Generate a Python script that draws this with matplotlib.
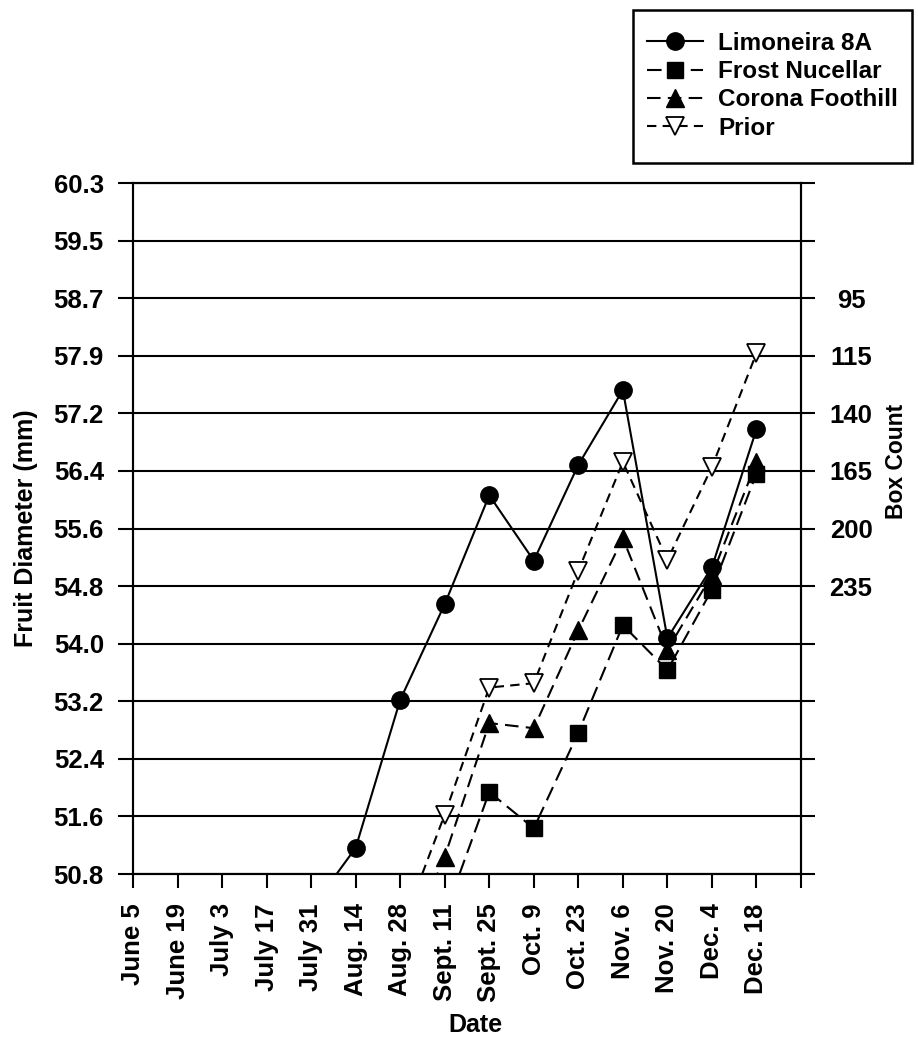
import numpy as np
import matplotlib.pyplot as plt
import matplotlib.patches as patches

plt.rcParams['font.family'] = ['Liberation Sans', 'DejaVu Sans']
plt.rcParams['font.weight'] = 'bold'

dates = ["June 5", "June 19", "July 3", "July 17", "July 31", "Aug. 14", "Aug. 28",
         "Sept. 11", "Sept. 25", "Oct. 9", "Oct. 23", "Nov. 6", "Nov. 20", "Dec. 4",
         "Dec. 18", ""]

# fruit diameter (mm); first values of each series fall below the axis
limoneira_x = [4, 5, 6, 7, 8, 9, 10, 11, 12, 13, 14]
limoneira = [50.32, 51.16, 53.20, 54.52, 56.02, 55.12, 56.44, 57.47, 54.05, 55.03, 56.93]
frost_x = [7, 8, 9, 10, 11, 12, 13, 14]
frost = [50.24, 51.93, 51.43, 52.75, 54.23, 53.61, 54.72, 56.32]
corona_x = [6, 7, 8, 9, 10, 11, 12, 13, 14]
corona = [49.59, 51.04, 52.88, 52.81, 54.16, 55.43, 53.89, 54.92, 56.48]
prior_x = [6, 7, 8, 9, 10, 11, 12, 13, 14]
prior = [50.00, 51.62, 53.37, 53.43, 54.98, 56.48, 55.13, 56.41, 57.98]

# axis ticks are 1/32 inch steps shown in mm
mm_ticks = [50.8 + k * 25.4 / 32 for k in range(13)]
mm_labels = ["50.8", "51.6", "52.4", "53.2", "54.0", "54.8", "55.6",
             "56.4", "57.2", "57.9", "58.7", "59.5", "60.3"]
box_labels = ["", "", "", "", "", "235", "200", "165", "140", "115", "95", "", ""]

fs = 18.5

fig = plt.figure(figsize=(9.18, 10.41), dpi=100)
ax = fig.add_axes([133 / 918, 1 - 874 / 1041, (801 - 133) / 918, (874 - 183) / 1041])

ax.plot(limoneira_x, limoneira, color='black', lw=1.5, marker='o', ms=12.5,
        mfc='black', mec='black', label="Limoneira 8A", zorder=3)
ax.plot(frost_x, frost, color='black', lw=1.5, dashes=(7, 3.5), marker='s', ms=11.5,
        mfc='black', mec='black', label="Frost Nucellar", zorder=3)
ax.plot(corona_x, corona, color='black', lw=1.5, dashes=(6.5, 3.5), marker='^', ms=13,
        mfc='black', mec='black', label="Corona Foothill", zorder=3)
ax.plot(prior_x, prior, color='black', lw=1.5, dashes=(4.5, 3), marker='v', ms=13,
        mfc='white', mec='black', mew=1.3, label="Prior", zorder=4)

ax.set_xlim(0, 15)
ax.set_ylim(mm_ticks[0], mm_ticks[-1])
ax.set_xticks(range(16))
ax.set_xticklabels(dates, rotation=90, fontsize=fs, fontweight='bold')
ax.set_yticks(mm_ticks)
ax.set_yticklabels(mm_labels, fontsize=fs, fontweight='bold')
ax.tick_params(axis='x', direction='out', length=10, width=1.5, pad=11)
ax.tick_params(axis='y', direction='out', length=11, width=1.5, pad=10)
ax.grid(axis='y', color='black', lw=1.5)
ax.set_axisbelow(True)
for s in ax.spines.values():
    s.set_linewidth(1.5)

ax.set_xlabel("Date", fontsize=18, fontweight='bold')
ax.xaxis.set_label_coords((475 - 133) / 668, -(1013 - 874) / 691)
ax.set_ylabel("Fruit Diameter (mm)", fontsize=18, fontweight='bold')
ax.yaxis.set_label_coords(-(133 - 38) / 668, 0.5)

ax2 = ax.twinx()
ax2.set_ylim(ax.get_ylim())
ax2.set_yticks(mm_ticks)
ax2.set_yticklabels(box_labels, fontsize=fs, fontweight='bold')
ax2.tick_params(axis='y', direction='out', length=10, width=1.5, pad=26)
for lbl in ax2.get_yticklabels():
    lbl.set_horizontalalignment('center')
ax2.set_ylabel("Box Count", fontsize=16.5, fontweight='bold')
ax2.yaxis.set_label_coords((885 - 133) / 668, (874 - 461) / 691)
for s in ax2.spines.values():
    s.set_linewidth(1.5)

leg = fig.legend(loc='upper left', bbox_to_anchor=(631 / 918, 1 - 16 / 1041),
                 borderaxespad=0, fontsize=17.5, frameon=False,
                 handlelength=2.3, handletextpad=0.65,
                 labelspacing=0.22, borderpad=0.65)
for t in leg.get_texts():
    t.set_fontweight('bold')

# legend box
fig.patches.append(patches.Rectangle((633 / 918, 1 - 163 / 1041), (912 - 633) / 918,
                                     (163 - 10) / 1041, transform=fig.transFigure,
                                     fill=False, lw=1.8, ec='black'))

fig.savefig("out.png", dpi=100)
